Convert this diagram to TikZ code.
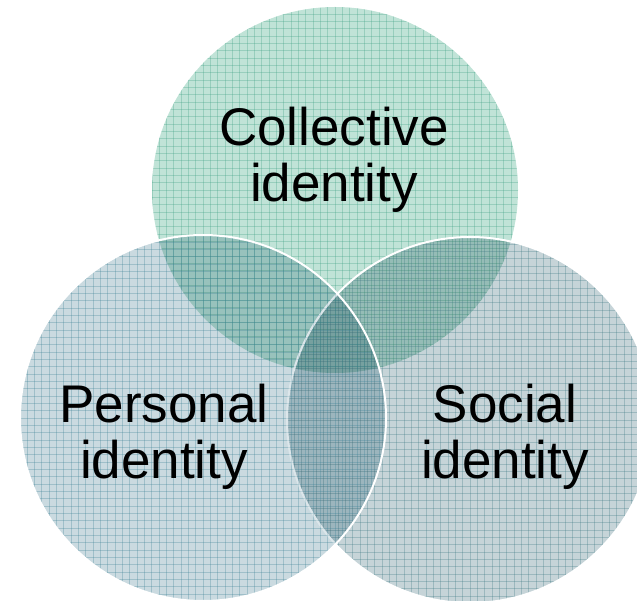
\documentclass[tikz,border=0pt]{standalone}
\usepackage{fontspec}
\setmainfont{Liberation Sans}
\definecolor{topfill}{RGB}{192,227,215}
\definecolor{topgrid}{RGB}{60,160,130}
\definecolor{leftfill}{RGB}{202,218,224}
\definecolor{leftgrid}{RGB}{60,130,150}
\definecolor{rightfill}{RGB}{198,212,216}
\definecolor{rightgrid}{RGB}{60,120,130}
\tikzset{
  label/.style={align=center,font=\fontsize{53}{56}\selectfont,text=black,inner sep=0pt},
  gridline/.style={line width=0.5pt,draw opacity=0.3},
  rim/.style={draw=white,line width=2pt}
}
\newcommand{\gridcircle}[6]{% x y r fill grid fillmode
  \begin{scope}[#6]
  \fill[#4] (#1,#2) circle (#3);
  \end{scope}
  \begin{scope}
    \clip (#1,#2) circle (#3);
    \foreach \k in {-25,...,25}{
      \draw[gridline,#5] ({#1+\k*7.33},{#2-#3}) -- ({#1+\k*7.33},{#2+#3});
      \draw[gridline,#5] ({#1-#3},{#2+\k*7.33}) -- ({#1+#3},{#2+\k*7.33});
    }
  \end{scope}
}
\begin{document}
\begin{tikzpicture}[x=1pt,y=-1pt]
\useasboundingbox (0,0) rectangle (637,601);
\clip (0,0) rectangle (637,601);
% top circle
\gridcircle{335}{190}{183}{topfill}{topgrid}{}
% right circle
\gridcircle{470}{420}{183}{rightfill}{rightgrid}{blend mode=multiply}
\draw[rim] (470,420) circle (183);
% left circle
\gridcircle{203}{418}{183}{leftfill}{leftgrid}{blend mode=multiply}
\begin{scope}
\clip (203,418) circle (183);
\draw[rim,draw opacity=0.35] (470,420) circle (183);
\end{scope}
\draw[rim] (203,418) circle (183);
\node[label] (collective) at (334,160) {Collective\\identity};
\node[label] (personal) at (164,437) {Personal\\identity};
\node[label] (social) at (505,437) {Social\\identity};
\end{tikzpicture}
\end{document}
